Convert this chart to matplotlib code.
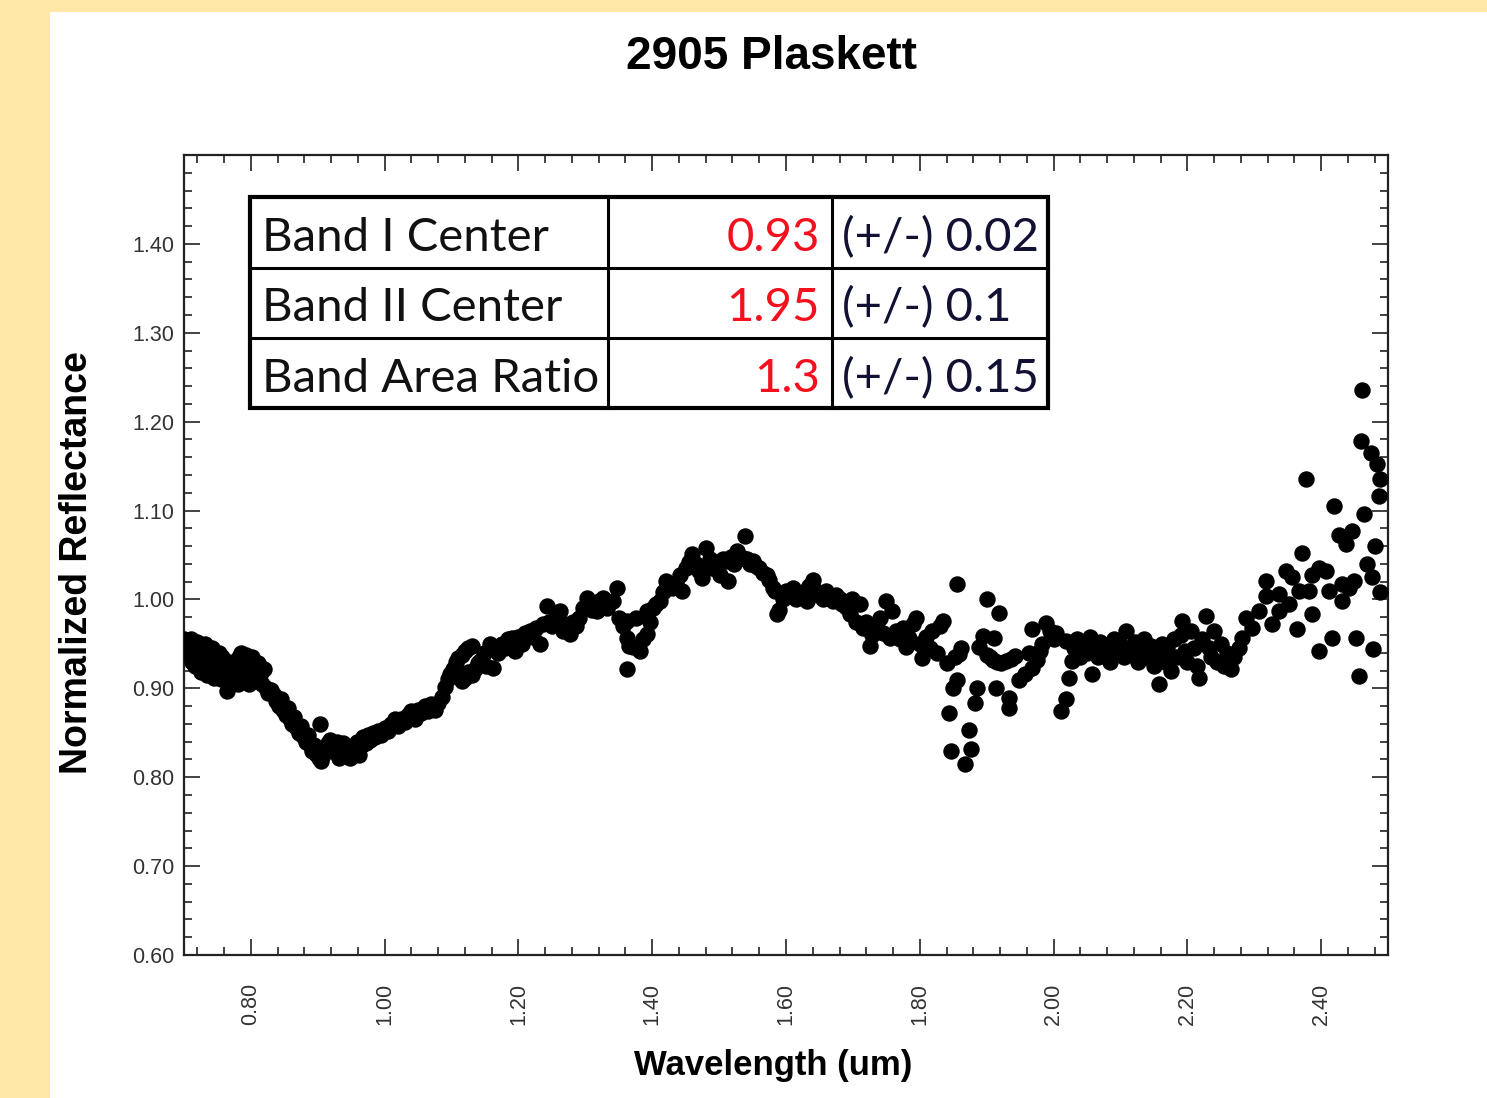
import numpy as np
import matplotlib
matplotlib.use('Agg')
import matplotlib.pyplot as plt
from matplotlib.ticker import MultipleLocator
from matplotlib.patches import Rectangle
from matplotlib.lines import Line2D

# spectrum of 2905 Plaskett, split into wavelength ranges (um, normalized reflectance)
wl_band1 = [0.700, 0.702, 0.705, 0.707, 0.710, 0.712, 0.715, 0.717, 0.720, 0.722,
            0.725, 0.727, 0.730, 0.732, 0.735, 0.737, 0.740, 0.742, 0.745, 0.747,
            0.750, 0.752, 0.755, 0.757, 0.762, 0.764, 0.765, 0.768, 0.770, 0.773,
            0.775, 0.778, 0.780, 0.782, 0.785, 0.788, 0.790, 0.792, 0.795, 0.797,
            0.800, 0.802, 0.805, 0.807, 0.810, 0.813, 0.816, 0.820, 0.822, 0.825,
            0.830, 0.835, 0.838, 0.842, 0.845, 0.848, 0.852, 0.855, 0.858, 0.862,
            0.865, 0.868, 0.872, 0.875, 0.878, 0.882, 0.885, 0.888, 0.892, 0.895,
            0.898, 0.902, 0.903, 0.905, 0.908, 0.912, 0.915, 0.918, 0.922, 0.925,
            0.928, 0.932, 0.935, 0.938, 0.942, 0.945, 0.948, 0.952, 0.955, 0.958,
            0.962, 0.965, 0.968, 0.972, 0.975, 0.978, 0.982, 0.986, 0.990, 0.995]
refl_band1 = [0.955, 0.945, 0.950, 0.938, 0.955, 0.930, 0.948, 0.925, 0.952, 0.935,
              0.918, 0.945, 0.928, 0.950, 0.915, 0.940, 0.925, 0.945, 0.912, 0.932,
              0.920, 0.940, 0.910, 0.935, 0.925, 0.897, 0.915, 0.930, 0.920, 0.910,
              0.928, 0.918, 0.905, 0.935, 0.940, 0.925, 0.912, 0.938, 0.930, 0.905,
              0.918, 0.935, 0.925, 0.910, 0.928, 0.915, 0.905, 0.922, 0.900, 0.895,
              0.898, 0.892, 0.886, 0.880, 0.888, 0.876, 0.870, 0.878, 0.866, 0.860,
              0.868, 0.856, 0.850, 0.858, 0.846, 0.840, 0.848, 0.836, 0.830, 0.836,
              0.826, 0.822, 0.860, 0.818, 0.825, 0.832, 0.838, 0.842, 0.835, 0.828,
              0.840, 0.822, 0.830, 0.838, 0.825, 0.832, 0.822, 0.835, 0.828, 0.840,
              0.825, 0.835, 0.845, 0.838, 0.848, 0.842, 0.850, 0.845, 0.852, 0.848]

wl_mid = [1.000, 1.005, 1.010, 1.015, 1.020, 1.025, 1.030, 1.035, 1.040, 1.045,
          1.050, 1.055, 1.060, 1.065, 1.070, 1.075, 1.080, 1.085, 1.090, 1.094,
          1.098, 1.102, 1.106, 1.110, 1.115, 1.120, 1.125, 1.130,
          1.115, 1.120, 1.125, 1.130, 1.135, 1.140,
          1.142, 1.148, 1.152, 1.157, 1.162, 1.166, 1.170, 1.175, 1.180, 1.185,
          1.191, 1.195, 1.200, 1.205, 1.210, 1.217, 1.222, 1.226, 1.232, 1.236,
          1.242, 1.246, 1.250, 1.255, 1.262, 1.266, 1.270, 1.277, 1.282, 1.286,
          1.291, 1.296, 1.302, 1.306, 1.310, 1.317, 1.321, 1.326, 1.332, 1.336,
          1.341, 1.347, 1.351, 1.356, 1.362, 1.362, 1.366, 1.363, 1.371, 1.376,
          1.381, 1.386, 1.392, 1.392, 1.397, 1.401, 1.406, 1.411, 1.416, 1.421,
          1.426, 1.430, 1.436, 1.441, 1.445, 1.451, 1.455, 1.460, 1.465, 1.470,
          1.475, 1.481, 1.486, 1.490, 1.495, 1.501, 1.506, 1.511, 1.513, 1.518,
          1.522, 1.526, 1.530, 1.535, 1.538, 1.542, 1.546, 1.550, 1.555, 1.560,
          1.565, 1.571, 1.575, 1.580, 1.584, 1.587]
refl_mid = [0.855, 0.852, 0.860, 0.866, 0.858, 0.866, 0.862, 0.870, 0.874, 0.866,
            0.876, 0.872, 0.880, 0.874, 0.882, 0.876, 0.884, 0.890, 0.902, 0.910,
            0.916, 0.922, 0.930, 0.934, 0.938, 0.942, 0.945, 0.948,
            0.908, 0.912, 0.918, 0.915, 0.922, 0.928,
            0.931, 0.940, 0.925, 0.950, 0.923, 0.945, 0.940, 0.950, 0.945, 0.955,
            0.957, 0.942, 0.958, 0.950, 0.962, 0.965, 0.958, 0.968, 0.950, 0.972,
            0.993, 0.975, 0.970, 0.978, 0.987, 0.965, 0.972, 0.961, 0.975, 0.970,
            0.979, 0.990, 1.002, 0.995, 0.988, 0.987, 0.998, 1.002, 0.990, 0.995,
            0.998, 1.013, 0.979, 0.970, 0.976, 0.957, 0.948, 0.922, 0.946, 0.979,
            0.942, 0.955, 0.961, 0.987, 0.975, 0.990, 0.995, 0.998, 1.008, 1.021,
            1.015, 1.013, 1.018, 1.028, 1.010, 1.035, 1.042, 1.051, 1.040, 1.032,
            1.024, 1.058, 1.045, 1.035, 1.040, 1.028, 1.045, 1.043, 1.021, 1.048,
            1.040, 1.054, 1.045, 1.047, 1.071, 1.045, 1.040, 1.043, 1.038, 1.035,
            1.030, 1.028, 1.022, 1.013, 1.010, 0.984]

wl_band2 = [1.590, 1.595, 1.600, 1.605, 1.610, 1.615, 1.620, 1.625, 1.631, 1.635,
            1.640, 1.645, 1.650, 1.655, 1.660, 1.665, 1.670, 1.675, 1.680, 1.684,
            1.690, 1.695, 1.699, 1.705, 1.710, 1.715, 1.720, 1.725, 1.729, 1.735,
            1.740, 1.745, 1.750, 1.755, 1.759, 1.765, 1.770, 1.775, 1.780, 1.784,
            1.790, 1.795, 1.800, 1.804, 1.810, 1.815, 1.819, 1.825, 1.830, 1.834,
            1.840, 1.844, 1.847, 1.849, 1.852, 1.855, 1.855, 1.859, 1.862, 1.867,
            1.874, 1.877, 1.882, 1.885, 1.889, 1.894, 1.900, 1.901, 1.905, 1.910,
            1.911, 1.914, 1.915, 1.919, 1.922, 1.929, 1.934, 1.934, 1.937, 1.943,
            1.949, 1.958, 1.964, 1.968, 1.968, 1.975, 1.979, 1.983, 1.989, 1.994,
            2.000, 2.004, 2.011, 2.019, 2.019, 2.023, 2.028]
refl_band2 = [0.988, 1.000, 1.010, 1.005, 1.013, 1.000, 1.005, 1.008, 0.998, 1.015,
              1.022, 1.010, 1.005, 1.000, 1.010, 1.002, 0.998, 1.005, 1.000, 0.995,
              0.992, 0.984, 1.000, 0.975, 0.995, 0.968, 0.975, 0.948, 0.960, 0.970,
              0.979, 0.962, 0.998, 0.957, 0.987, 0.965, 0.955, 0.968, 0.946, 0.957,
              0.972, 0.979, 0.950, 0.934, 0.958, 0.945, 0.965, 0.940, 0.970, 0.976,
              0.929, 0.872, 0.830, 0.900, 0.935, 1.017, 0.909, 0.939, 0.945, 0.815,
              0.853, 0.832, 0.883, 0.900, 0.946, 0.959, 0.938, 1.001, 0.935, 0.932,
              0.957, 0.900, 0.930, 0.985, 0.928, 0.931, 0.889, 0.878, 0.933, 0.936,
              0.909, 0.916, 0.940, 0.923, 0.967, 0.932, 0.942, 0.950, 0.974, 0.965,
              0.955, 0.962, 0.875, 0.953, 0.888, 0.912, 0.931]

wl_red = [2.030, 2.035, 2.040, 2.045, 2.050, 2.055, 2.058, 2.062, 2.066, 2.070,
          2.075, 2.080, 2.085, 2.090, 2.095, 2.100, 2.105, 2.109, 2.113, 2.118,
          2.122, 2.126, 2.130, 2.135, 2.140, 2.145, 2.150, 2.155, 2.158, 2.162,
          2.166, 2.170, 2.175, 2.180, 2.185, 2.190, 2.192, 2.196, 2.200, 2.205,
          2.210, 2.214, 2.218, 2.222, 2.228, 2.232, 2.236, 2.240, 2.245, 2.250,
          2.255, 2.260, 2.265, 2.270, 2.277, 2.282, 2.288, 2.297, 2.307, 2.318,
          2.318, 2.327, 2.337, 2.337, 2.348, 2.352, 2.357, 2.364, 2.367, 2.372,
          2.378, 2.382, 2.386, 2.386, 2.397, 2.397, 2.407, 2.412, 2.416, 2.419,
          2.427, 2.431, 2.431, 2.437, 2.442, 2.446, 2.449, 2.452, 2.456, 2.459,
          2.461, 2.464, 2.469, 2.474, 2.476, 2.477, 2.481, 2.483, 2.486, 2.488,
          2.488]
refl_red = [0.945, 0.955, 0.935, 0.950, 0.940, 0.958, 0.916, 0.945, 0.935, 0.952,
            0.940, 0.948, 0.930, 0.955, 0.942, 0.950, 0.935, 0.965, 0.945, 0.938,
            0.952, 0.930, 0.945, 0.955, 0.935, 0.948, 0.925, 0.940, 0.905, 0.950,
            0.930, 0.945, 0.920, 0.955, 0.935, 0.960, 0.976, 0.942, 0.930, 0.965,
            0.945, 0.925, 0.912, 0.955, 0.981, 0.945, 0.935, 0.965, 0.930, 0.950,
            0.925, 0.940, 0.922, 0.935, 0.945, 0.957, 0.979, 0.968, 0.987, 1.021,
            1.004, 0.972, 1.006, 0.987, 1.032, 0.995, 1.025, 0.967, 1.010, 1.052,
            1.136, 1.010, 0.984, 1.028, 1.035, 0.942, 1.032, 1.010, 0.957, 1.105,
            1.073, 1.017, 0.998, 1.062, 1.013, 1.077, 1.021, 0.957, 0.914, 1.178,
            1.236, 1.096, 1.040, 1.165, 1.025, 0.944, 1.060, 1.152, 1.116, 1.136,
            1.008]

x_ticks = [0.80, 1.00, 1.20, 1.40, 1.60, 1.80, 2.00, 2.20, 2.40]
y_ticks = [0.60, 0.70, 0.80, 0.90, 1.00, 1.10, 1.20, 1.30, 1.40]

band_names = ['Band I Center', 'Band II Center', 'Band Area Ratio']
band_values = ['0.93', '1.95', '1.3']
band_errors = ['0.02', '0.1', '0.15']

wl = np.concatenate([wl_band1, wl_mid, wl_band2, wl_red])
refl = np.concatenate([refl_band1, refl_mid, refl_band2, refl_red])

W, H = 1487, 1098


def fx(px):
    return px / W


def fy(py):
    return 1 - py / H


fig = plt.figure(figsize=(W / 100, H / 100), dpi=100, facecolor='white')
bg = '#FFE7A7'
fig.patches.append(Rectangle((0, 0), fx(50), 1, transform=fig.transFigure,
                             facecolor=bg, edgecolor='none', zorder=0))
fig.patches.append(Rectangle((0, fy(12)), 1, 1 - fy(12), transform=fig.transFigure,
                             facecolor=bg, edgecolor='none', zorder=0))

ax = fig.add_axes([fx(184), fy(955), fx(1388) - fx(184), fy(155) - fy(955)])
ax.scatter(wl, refl, s=140, c='black', marker='o', linewidths=0, zorder=3)

ax.set_xlim(0.70, 2.50)
ax.set_ylim(0.60, 1.50)
ax.set_xticks(x_ticks)
ax.set_xticklabels(['%.2f' % v for v in x_ticks], rotation=90)
ax.set_yticks(y_ticks)
ax.set_yticklabels(['%.2f' % v for v in y_ticks])
ax.xaxis.set_minor_locator(MultipleLocator(0.04))
ax.yaxis.set_minor_locator(MultipleLocator(0.02))
ax.tick_params(which='both', direction='in', top=True, right=True,
               width=1.2, color='#222222', labelcolor='#333333',
               labelsize=15.5)
ax.tick_params(which='major', length=11.5)
ax.tick_params(which='minor', length=5.5)
ax.tick_params(axis='x', pad=20)
ax.tick_params(axis='y', pad=7)
for lab in ax.get_xticklabels() + ax.get_yticklabels():
    lab.set_family('Liberation Sans')
for sp in ax.spines.values():
    sp.set_linewidth(1.6)
    sp.set_color('#222222')

fig.text(fx(772), fy(57), '2905 Plaskett', ha='center', va='center',
         fontsize=33, fontweight='bold', family='Liberation Sans')
fig.text(fx(773), fy(1065), 'Wavelength (um)', ha='center', va='center',
         fontsize=25, fontweight='bold', family='Liberation Sans')
fig.text(fx(77), fy(563), 'Normalized Reflectance', ha='center', va='center',
         rotation=90, fontsize=27, fontweight='bold', family='Liberation Sans')

# results table drawn over the plot
tx0, tx1, tx2, tx3 = 250, 608, 832, 1048
ty = [197, 268, 338, 408]
fig.patches.append(Rectangle((fx(tx0), fy(ty[3])), fx(tx3) - fx(tx0), fy(ty[0]) - fy(ty[3]),
                             transform=fig.transFigure, facecolor='white',
                             edgecolor='black', linewidth=3, zorder=5))
for xv in (tx1, tx2):
    fig.lines.append(Line2D([fx(xv), fx(xv)], [fy(ty[0]), fy(ty[3])],
                            transform=fig.transFigure, color='black', lw=2.2, zorder=6))
for yv in ty[1:3]:
    fig.lines.append(Line2D([fx(tx0), fx(tx3)], [fy(yv), fy(yv)],
                            transform=fig.transFigure, color='black', lw=2.2, zorder=6))

baselines = [251, 321, 392]
for name, val, err, yb in zip(band_names, band_values, band_errors, baselines):
    fig.text(fx(262), fy(yb), name, ha='left', va='baseline', fontsize=34,
             family='Lato', color='#111111', zorder=7)
    fig.text(fx(820), fy(yb), val, ha='right', va='baseline', fontsize=34,
             family='Lato', color='#F5101E', zorder=7)
    fig.text(fx(842), fy(yb), '(+/-) ' + err, ha='left', va='baseline', fontsize=34,
             family='Lato', color='#111133', zorder=7)

fig.savefig('out.png', dpi=100, facecolor=fig.get_facecolor())
